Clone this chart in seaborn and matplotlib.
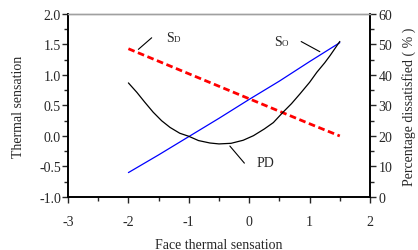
"""
Face thermal sensation vs overall sensation and percentage dissatisfied
"""
import pandas as pd
import matplotlib
matplotlib.use('Agg')
import matplotlib.pyplot as plt
import seaborn as sns
from matplotlib.ticker import MultipleLocator, FormatStrFormatter

# overall thermal sensation S_O (left axis)
so_x = [-2.0, -1.5, -1.0, -0.5, 0.0, 0.5, 1.0, 1.5]
so_y = [-0.60, -0.31, -0.01, 0.29, 0.60, 0.90, 1.22, 1.53]

# S_D (left axis)
sd_x = [-2.0, -1.0, 0.0, 1.0, 1.5]
sd_y = [1.43, 1.02, 0.61, 0.20, 0.00]

# percentage dissatisfied PD (right axis)
pd_x = [-2.0, -1.86, -1.73, -1.59, -1.45, -1.31, -1.15, -1.0, -0.84, -0.65, -0.5,
        -0.3, -0.1, 0.07, 0.25, 0.4, 0.56, 0.7, 0.84, 1.0, 1.12, 1.25, 1.34, 1.5]
pd_y = [37.4, 34.3, 31.1, 27.8, 25.0, 22.8, 20.9, 19.9, 18.5, 17.7, 17.4,
        17.6, 18.6, 20.1, 22.3, 24.4, 27.8, 30.6, 33.8, 37.6, 40.9, 44.0, 46.4, 51.0]

sns.set_style('ticks')
plt.rcParams['font.family'] = ['Liberation Serif', 'DejaVu Serif']
plt.rcParams['axes.unicode_minus'] = False

fig = plt.figure(figsize=(4.18, 2.51), dpi=100)
ax = fig.add_axes([0.1627, 0.2112, 0.7225, 0.7291])
ax2 = ax.twinx()

df_so = pd.DataFrame({'x': so_x, 'y': so_y})
df_sd = pd.DataFrame({'x': sd_x, 'y': sd_y})
df_pd = pd.DataFrame({'x': pd_x, 'y': pd_y})

sns.lineplot(data=df_so, x='x', y='y', ax=ax, color='blue', linewidth=0.9)
sns.lineplot(data=df_sd, x='x', y='y', ax=ax, color='red', linewidth=2.0,
             linestyle=(0, (2.4, 1.3)))
sns.lineplot(data=df_pd, x='x', y='y', ax=ax2, color='black', linewidth=0.9)

ax.set_xlim(-3, 2)
ax.set_ylim(-1.0, 2.0)
ax2.set_ylim(0, 60)

ax.xaxis.set_major_locator(MultipleLocator(1))
ax.xaxis.set_minor_locator(MultipleLocator(0.5))
ax.yaxis.set_major_locator(MultipleLocator(0.5))
ax.yaxis.set_minor_locator(MultipleLocator(0.25))
ax2.yaxis.set_major_locator(MultipleLocator(10))
ax2.yaxis.set_minor_locator(MultipleLocator(5))
ax.yaxis.set_major_formatter(FormatStrFormatter('%.1f'))

fs = 10
ax.tick_params(axis='both', which='major', direction='out', length=4, width=1, labelsize=fs, pad=1)
ax.tick_params(axis='both', which='minor', direction='out', length=3, width=1)
ax.tick_params(axis='x', which='major', pad=9)
ax2.tick_params(axis='y', which='major', direction='out', length=4, width=1, labelsize=fs, pad=2)
ax2.tick_params(axis='y', which='minor', direction='out', length=3, width=1)

ax.set_xlabel('Face thermal sensation', fontsize=fs, labelpad=7)
ax.set_ylabel('Thermal sensation', fontsize=fs, labelpad=10)
ax2.set_ylabel('Percentage dissatisfied ( % )', fontsize=fs, labelpad=7)

for a in (ax, ax2):
    for side in ('left', 'bottom', 'right'):
        a.spines[side].set_color('black')
        a.spines[side].set_linewidth(1.2)
    a.spines['top'].set_color('#a0a0a0')
    a.spines['top'].set_linewidth(1.0)
    a.spines['top'].set_visible(True)
    a.spines['right'].set_visible(True)

# curve labels with leader lines
line_kw = dict(arrowstyle='-', color='black', lw=0.8)
ax.annotate('', xy=(-1.87, 1.39), xytext=(-1.58, 1.64), arrowprops=line_kw)
ax.text(-1.38, 1.55, 'S', fontsize=fs, ha='left', va='baseline')
ax.text(-1.25, 1.55, 'D', fontsize=6.5, ha='left', va='baseline')

ax.annotate('', xy=(1.21, 1.36), xytext=(0.82, 1.57), arrowprops=line_kw)
ax.text(0.41, 1.49, 'S', fontsize=fs, ha='left', va='baseline')
ax.text(0.54, 1.49, 'O', fontsize=6.5, ha='left', va='baseline')

ax.annotate('', xy=(-0.35, -0.13), xytext=(-0.05, -0.48), arrowprops=line_kw)
ax.text(0.12, -0.44, 'PD', fontsize=fs, ha='left', va='center')

fig.savefig('out.png', dpi=100)
